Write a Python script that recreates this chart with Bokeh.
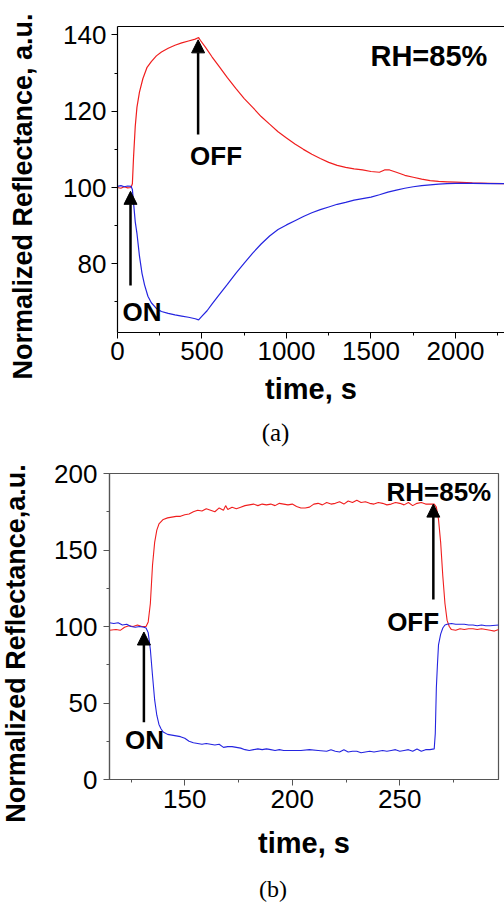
import math
from bokeh.plotting import figure
from bokeh.models import Label, Arrow, NormalHead, FixedTicker, Range1d, LinearAxis
from bokeh.core.properties import value
from bokeh.layouts import column, row
from bokeh.embed import file_html
from bokeh.resources import INLINE

# ---------------- data: panel (a) ----------------
t_a_red = [0, 20, 40, 60, 80, 88, 95, 105, 115, 130, 150, 175, 200, 230, 260, 300, 340, 380,
           420, 460, 480, 490, 520, 560, 600, 650, 700, 750, 800, 850, 900, 950, 1000, 1050,
           1100, 1150, 1200, 1250, 1300, 1350, 1400, 1450, 1500, 1550, 1580, 1610, 1650, 1700,
           1750, 1800, 1850, 1900, 1950, 2000, 2100, 2200, 2300]
red_a = [100.0, 99.8, 100.2, 99.9, 100.0, 101.0, 108.0, 116.0, 121.0, 125.0, 128.5, 131.5, 133.0,
         134.5, 135.5, 136.5, 137.3, 137.9, 138.4, 138.9, 139.3, 138.6, 136.8, 134.2, 131.8, 128.8,
         126.0, 123.3, 121.0, 118.6, 116.6, 114.6, 113.0, 111.4, 110.0, 108.7, 107.6, 106.6, 105.8,
         105.3, 104.9, 104.6, 104.2, 104.0, 104.6, 104.6, 104.0, 103.2, 102.7, 102.2, 101.8, 101.6,
         101.5, 101.4, 101.2, 101.1, 101.0]

t_a_blue = [0, 20, 40, 60, 80, 88, 95, 105, 115, 130, 145, 160, 180, 200, 230, 260, 300, 340, 380,
            420, 460, 480, 500, 530, 560, 600, 650, 700, 750, 800, 850, 900, 950, 1000, 1050, 1100,
            1150, 1200, 1250, 1300, 1350, 1400, 1450, 1500, 1550, 1600, 1650, 1700, 1750, 1800,
            1850, 1900, 1950, 2000, 2100, 2200, 2300]
blue_a = [100.3, 100.5, 100.2, 100.4, 100.3, 99.5, 96.0, 91.0, 88.0, 82.0, 77.5, 74.5, 71.5, 69.8,
          68.3, 67.5, 67.0, 66.6, 66.3, 66.0, 65.6, 65.3, 66.3, 67.7, 69.5, 71.8, 74.6, 77.5, 80.2,
          82.8, 85.2, 87.3, 89.0, 90.2, 91.3, 92.4, 93.4, 94.2, 94.9, 95.6, 96.1, 96.7, 97.1, 97.5,
          98.1, 98.8, 99.3, 99.8, 100.2, 100.5, 100.7, 100.9, 101.0, 101.1, 101.1, 101.0, 101.0]

# ---------------- data: panel (b) ----------------
t_b_red = [115, 118, 120, 122, 124, 126, 128, 130, 132, 133, 134, 135, 136, 137, 138, 140, 142, 144,
           146, 148, 150, 152, 154, 156, 158, 160, 162, 164, 166, 168, 169, 170, 172, 174, 176, 178,
           180, 182, 184, 186, 188, 190, 192, 194, 196, 198, 200, 202, 204, 206, 208, 210, 212, 214,
           216, 218, 220, 222, 224, 226, 228, 230, 232, 234, 236, 238, 240, 242, 244, 246, 248, 250,
           252, 254, 256, 258, 260, 262, 264, 266, 267, 268, 269, 270, 271, 272, 273, 274, 276, 278,
           280, 282, 284, 286, 288, 290, 292, 294, 296]
red_b = [97.5, 98.0, 97.5, 99.5, 100.5, 100.0, 101.0, 100.0, 100.0, 103.0, 115.0, 140.0, 155.0, 163.0,
         167.0, 170.0, 171.0, 171.5, 172.0, 172.0, 173.0, 173.5, 175.0, 176.0, 175.5, 177.0, 176.0,
         175.0, 177.5, 176.0, 179.0, 176.5, 178.0, 177.0, 178.0, 179.0, 179.5, 180.0, 179.0, 180.0,
         179.5, 180.0, 179.0, 180.5, 180.0, 179.5, 180.0, 178.5, 177.5, 177.5, 178.0, 180.0, 180.5,
         179.5, 181.0, 180.0, 180.5, 181.5, 180.0, 182.0, 181.0, 182.5, 181.0, 181.5, 180.5, 180.0,
         181.0, 180.5, 179.5, 180.0, 181.0, 180.5, 179.5, 181.0, 179.0, 180.5, 181.0, 180.0, 180.0,
         180.0, 178.0, 170.0, 155.0, 133.0, 115.0, 104.0, 100.0, 98.0, 97.5, 98.5, 98.0, 98.5, 98.5,
         98.0, 98.5, 98.0, 97.5, 97.0, 98.0]

t_b_blue = [115, 117, 119, 121, 123, 125, 127, 129, 131, 132, 133, 134, 135, 136, 137, 138, 139, 140,
            142, 144, 146, 148, 150, 152, 154, 156, 158, 160, 162, 164, 166, 168, 170, 172, 174, 176,
            178, 180, 182, 184, 186, 188, 190, 192, 194, 196, 198, 200, 204, 208, 212, 216, 218, 220,
            222, 224, 226, 228, 230, 232, 234, 236, 238, 240, 242, 244, 246, 248, 250, 252, 254, 256,
            258, 260, 262, 264, 266, 266.5, 267, 267.5, 268, 269, 270, 271, 272, 274, 276, 278, 280,
            282, 284, 286, 288, 290, 292, 296]
blue_b = [102.5, 102.0, 102.5, 101.0, 101.5, 100.0, 99.5, 100.0, 99.5, 99.0, 96.0, 85.0, 68.0, 52.0,
          42.0, 36.0, 33.0, 31.0, 29.5, 29.0, 28.5, 28.0, 27.0, 25.0, 24.0, 23.5, 23.0, 23.5, 23.0,
          22.5, 23.0, 21.0, 21.5, 21.5, 21.0, 20.5, 19.5, 19.0, 19.5, 20.0, 19.5, 20.0, 19.5, 19.0,
          19.5, 19.0, 19.0, 19.0, 19.0, 19.5, 19.0, 18.5, 19.5, 18.5, 18.0, 19.5, 18.0, 18.5, 18.5,
          17.5, 18.0, 18.5, 18.0, 18.5, 19.0, 18.5, 19.0, 19.5, 18.5, 19.0, 19.5, 18.5, 20.0, 18.5,
          19.5, 19.5, 20.0, 30.0, 60.0, 75.0, 88.0, 95.0, 99.0, 101.0, 101.5, 102.0, 101.5, 101.5,
          101.5, 101.0, 101.0, 100.5, 101.0, 100.5, 100.5, 101.0]

# ticks
a_xticks = [0, 500, 1000, 1500, 2000]
a_xminor = [250, 750, 1250, 1750, 2250]
a_yticks = [80, 100, 120, 140]
a_yminor = [70, 90, 110, 130]
b_xticks = [150, 200, 250]
b_xminor = [125, 175, 225, 275]
b_yticks = [0, 50, 100, 150, 200]
b_yminor = [25, 75, 125, 175]

# texts
ylab_a_text = "Normalized Reflectance, a.u."
ylab_b_text = "Normalized Reflectance,a.u."
xlab_text = "time, s"

RED = "#f01e1e"
BLUE = "#2424e0"
SANS = "Liberation Sans"
SERIF = "Liberation Serif"


def style_axes(p, color):
    for ax in (p.xaxis[0], p.yaxis[0]):
        ax.axis_line_color = color
        ax.axis_line_width = 1.2
        ax.major_tick_line_color = color
        ax.minor_tick_line_color = color
        ax.major_tick_in = 0
        ax.major_tick_out = 6
        ax.minor_tick_in = 0
        ax.minor_tick_out = 3
        ax.major_label_text_font = SANS
        ax.major_label_text_font_size = "26px"
        ax.major_label_text_color = "black"
        ax.axis_label_text_font = SANS
        ax.axis_label_text_font_style = "bold"
        ax.axis_label_text_color = "black"
        ax.axis_label_text_font_size = "29px"
    p.xgrid.visible = False
    p.ygrid.visible = False


def txt(p, x, y, text, size, align="center"):
    p.add_layout(Label(x=x, y=y, text=text, text_font=SANS, text_font_style="bold",
                       text_font_size=size, text_align=align, text_baseline="middle",
                       text_color="black"))


def arrow(p, x, y0, y1):
    p.add_layout(Arrow(end=NormalHead(size=13, fill_color="black", line_color="black"),
                       x_start=x, y_start=y0, x_end=x, y_end=y1,
                       line_color="black", line_width=2.5))


def text_strip(w, h, x, y, text, font, size, style, angle=0.0):
    """A bare figure that only carries one piece of text (axis title / caption)."""
    f = figure(width=w, height=h, output_backend="svg", toolbar_location=None,
               x_range=Range1d(0, w), y_range=Range1d(0, h), x_axis_type=None, y_axis_type=None,
               min_border=0, background_fill_color="white", border_fill_color="white")
    f.outline_line_color = None
    f.text(x=[x], y=[y], text=[text], angle=angle, text_font=value(font),
           text_font_size=value(size), text_font_style=style, text_align="center",
           text_baseline="middle", text_color="black")
    return f


# ---------------- panel (a) ----------------
pa = figure(width=464, height=415, output_backend="svg", toolbar_location=None,
            x_range=Range1d(0, 2290), y_range=Range1d(62.0, 142.2),
            min_border_left=77, min_border_right=0, min_border_top=26, min_border_bottom=83,
            background_fill_color="white", border_fill_color="white")
pa.outline_line_color = None
pa.line(t_a_red, red_a, line_color=RED, line_width=1.2)
pa.line(t_a_blue, blue_a, line_color=BLUE, line_width=1.2)
pa.xaxis.ticker = FixedTicker(ticks=a_xticks, minor_ticks=a_xminor)
pa.yaxis.ticker = FixedTicker(ticks=a_yticks, minor_ticks=a_yminor)
style_axes(pa, "black")
pa.xaxis.major_label_standoff = 3
pa.yaxis.major_label_standoff = 5
pa.xaxis.axis_label = xlab_text
pa.xaxis.axis_label_standoff = 10
top_a = LinearAxis(ticker=FixedTicker(ticks=[]), major_label_text_font_size="0px",
                   major_tick_line_color=None, minor_tick_line_color=None,
                   axis_line_color="black", axis_line_width=1.2)
pa.add_layout(top_a, "above")

arrow(pa, 77, 74.3, 99.0)
arrow(pa, 477, 113.9, 138.7)
txt(pa, 145, 67.5, "ON", "26px")
txt(pa, 583, 108.25, "OFF", "26px")
txt(pa, 1497, 134.4, "RH=85%", "29px", align="left")

ylab_a = text_strip(40, 415, 22, 415 - 196, ylab_a_text, SANS, "27px", "bold", math.pi / 2)
cap_a = text_strip(504, 40, 275, 23, "(a)", SERIF, "25px", "normal")

# ---------------- panel (b) ----------------
pb = figure(width=464, height=412, output_backend="svg", toolbar_location=None,
            x_range=Range1d(115.0, 295.9), y_range=Range1d(0, 200),
            min_border_left=69, min_border_right=6, min_border_top=18, min_border_bottom=88,
            background_fill_color="white", border_fill_color="white")
pb.outline_line_color = "#555555"
pb.outline_line_width = 1.2
pb.line(t_b_red, red_b, line_color=RED, line_width=1.1)
pb.line(t_b_blue, blue_b, line_color=BLUE, line_width=1.1)
pb.xaxis.ticker = FixedTicker(ticks=b_xticks, minor_ticks=b_xminor)
pb.yaxis.ticker = FixedTicker(ticks=b_yticks, minor_ticks=b_yminor)
style_axes(pb, "#555555")
pb.xaxis.major_label_standoff = 4
pb.yaxis.major_label_standoff = 6
pb.xaxis.axis_label = xlab_text
pb.xaxis.axis_label_standoff = 16

arrow(pb, 131.0, 37.5, 96.4)
arrow(pb, 265.6, 117.6, 180.0)
txt(pb, 131.3, 25.85, "ON", "26px")
txt(pb, 256.2, 103.1, "OFF", "26px")
txt(pb, 243.8, 188.2, "RH=85%", "26px", align="left")

ylab_b = text_strip(40, 412, 15.5, 412 - 188, ylab_b_text, SANS, "27px", "bold", math.pi / 2)
cap_b = text_strip(504, 36, 272.5, 14.5, "(b)", SERIF, "24px", "normal")

layout = column(
    row(column(ylab_a), column(pa), spacing=0),
    cap_a,
    row(column(ylab_b), column(pb), spacing=0),
    cap_b,
    spacing=0,
)
open("out.html", "w").write(file_html(layout, INLINE))
